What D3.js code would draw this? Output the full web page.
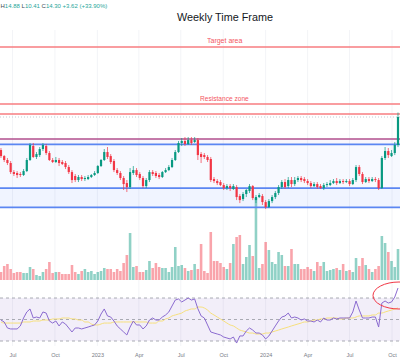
<!DOCTYPE html>
<html><head><meta charset="utf-8">
<script src="https://cdn.jsdelivr.net/npm/d3@7"></script>
<style>body{margin:0;background:#fff}svg{display:block;font-family:"Liberation Sans",Arial,sans-serif}</style>
</head><body><svg id="c" width="400" height="359"></svg>
<script>
const opens = [10.03,9.25,8.74,8.35,7.18,7.06,6.93,6.80,7.31,8.74,
10.55,9.13,9.38,10.16,10.55,9.64,8.74,8.48,8.74,8.48,
8.35,7.83,7.18,6.67,6.15,6.54,6.28,6.28,6.54,6.80,
7.06,7.96,8.74,9.77,9.25,8.61,7.44,7.06,6.41,5.76,
5.24,7.06,7.44,6.93,6.41,5.37,6.15,7.18,7.06,6.80,
6.54,7.18,7.44,7.83,8.74,9.77,10.94,11.20,10.81,11.32,
11.07,11.32,9.51,9.38,9.13,8.87,6.28,6.02,5.89,5.50,
5.11,5.37,4.99,5.24,4.08,3.69,4.34,4.73,5.37,3.56,
3.95,4.08,3.30,2.66,3.43,3.95,4.47,5.24,5.89,5.37,
6.15,5.63,6.15,6.41,6.28,6.02,5.76,5.37,5.63,5.37,
5.11,5.50,5.50,5.76,6.02,5.76,6.02,5.89,6.02,5.63,
6.15,7.83,6.93,5.89,6.28,6.02,6.28,6.15,5.11,9.00,
9.90,9.25,9.64,10.68];
const closes = [9.25,8.74,8.35,7.18,6.93,6.80,6.80,7.31,8.74,10.68,
9.13,9.51,10.16,10.68,9.64,8.74,8.48,8.74,8.35,8.22,
7.83,7.18,6.15,6.15,6.54,6.28,6.41,6.54,6.80,7.06,
7.96,8.74,9.77,9.13,8.48,7.44,7.06,6.41,5.63,5.24,
7.18,7.44,6.80,6.41,5.37,6.15,7.18,6.93,6.67,6.54,
7.18,7.44,7.83,8.74,9.77,10.94,11.20,10.81,11.32,10.94,
11.32,9.38,9.13,9.13,8.74,6.15,6.02,5.76,5.50,5.11,
5.37,5.11,5.37,3.95,3.56,4.34,4.86,5.37,3.82,3.95,
4.21,3.30,2.66,3.43,3.95,4.47,5.24,5.89,5.24,6.15,
5.63,6.15,6.41,6.15,6.02,5.76,5.37,5.63,5.24,5.11,
5.50,5.63,5.76,6.02,5.76,6.02,5.89,6.02,5.63,6.15,
7.83,6.93,5.89,6.28,6.02,6.28,6.15,5.11,9.00,9.90,
9.38,9.64,10.68,14.30];
const highs = [10.29,9.38,9.00,8.61,7.44,7.31,7.18,7.57,9.00,10.94,
10.94,9.77,10.42,10.94,10.81,9.90,9.00,9.13,9.00,8.74,
8.61,8.09,7.44,6.93,6.80,6.80,6.67,6.80,6.93,7.31,
8.09,8.87,10.16,10.42,9.51,8.87,7.70,7.31,6.67,6.15,
7.70,7.96,7.70,7.18,6.67,6.41,7.44,7.44,7.31,7.06,
7.31,7.70,8.09,9.00,10.03,11.20,11.58,11.71,11.71,11.71,
11.71,11.58,9.77,9.64,9.38,9.13,6.54,6.28,6.15,5.76,
5.63,5.63,5.63,5.50,4.34,4.60,4.99,5.63,5.50,4.21,
4.47,4.34,3.56,3.69,4.21,4.73,5.50,6.15,6.28,6.54,
6.54,6.54,6.67,6.67,6.54,6.28,6.02,5.89,5.89,5.63,
5.76,5.89,6.15,6.28,6.41,6.28,6.28,6.28,6.28,6.41,
8.09,8.09,7.18,6.54,6.54,6.54,6.54,6.41,9.25,10.42,
10.29,10.03,11.07,14.88];
const lows = [9.00,8.48,8.09,6.93,6.67,6.41,6.54,6.67,7.18,8.61,
9.00,8.87,9.13,9.90,9.38,8.61,8.35,8.35,7.96,8.09,
7.57,6.93,5.76,5.89,5.89,6.02,6.02,6.15,6.41,6.67,
6.93,7.83,8.61,8.87,8.22,7.18,6.80,6.15,4.86,4.60,
4.99,6.80,6.54,6.15,5.11,5.11,5.89,6.67,6.41,6.28,
6.41,7.06,7.31,7.70,8.61,9.64,10.55,10.55,10.68,10.68,
10.94,8.74,8.35,8.87,8.48,5.89,5.76,5.50,5.37,4.86,
4.86,4.73,4.86,3.56,3.17,3.43,3.95,4.47,3.56,3.17,
3.82,2.92,2.40,2.53,3.17,3.69,4.21,4.99,4.99,5.11,
5.24,5.37,5.89,5.89,5.76,5.50,5.11,5.24,4.99,4.99,
4.86,5.24,5.37,5.63,5.50,5.63,5.63,5.76,5.37,5.50,
5.89,6.67,5.63,5.76,5.76,5.89,5.89,4.86,4.99,8.74,
9.00,9.13,9.38,10.41];
const volumes = [8,14,16,11,7,8,8,7,7,13,
11,5,4,8,11,18,7,8,8,6,
6,6,15,8,6,9,11,8,9,6,
8,9,12,11,11,8,11,9,17,25,
47,13,14,8,8,10,19,12,17,13,
12,12,8,13,33,14,15,12,9,10,
16,11,36,9,7,48,19,19,17,13,
11,17,36,43,45,16,23,35,24,82,
12,16,38,30,18,16,28,25,14,14,
31,16,16,11,11,13,11,9,18,14,
18,9,10,11,12,10,16,9,10,8,
22,14,22,15,11,8,11,14,44,37,
28,19,13,31];
const rsi = [49.5,47.7,42.1,41.2,41.2,41.2,44.0,51.4,57.0,59.8,
51.4,52.3,51.4,57.0,56.0,48.6,46.7,48.6,44.0,47.7,
45.8,42.1,38.4,42.1,42.1,41.2,42.1,43.0,44.0,44.9,
48.6,55.1,59.8,53.3,52.3,48.6,44.0,41.2,38.4,35.6,
43.0,48.6,44.9,44.9,41.2,44.0,49.5,51.4,49.5,49.5,
52.3,54.2,57.0,62.6,68.1,69.1,66.3,68.1,70.0,68.1,
69.1,60.0,53.3,51.4,44.9,38.4,37.4,36.5,35.6,33.7,
32.8,31.9,33.7,28.1,34.7,34.7,39.3,42.1,40.2,37.4,
37.4,35.6,31.9,34.7,39.3,44.0,48.6,52.3,53.3,56.0,
51.4,52.3,51.4,49.5,50.5,48.6,48.6,47.7,49.5,47.7,
51.4,49.5,49.5,51.4,50.5,51.4,51.4,51.4,51.4,57.0,
67.2,58.8,51.4,51.4,51.4,52.3,52.3,43.0,65.3,67.2,
65.3,66.3,70.9,79.3];
const rsiMA = [47.7,46.7,46.7,46.7,46.7,46.7,46.7,47.7,47.7,47.7,
48.6,48.6,48.6,49.5,49.5,49.5,50.5,50.5,50.5,51.4,
51.4,51.4,50.5,50.5,49.5,49.5,47.7,47.7,45.8,44.9,
44.9,45.8,46.7,46.7,46.7,47.7,47.7,47.7,47.7,47.7,
47.7,47.7,47.7,47.7,47.7,47.7,46.7,46.7,46.7,48.6,
48.6,50.5,51.4,53.3,54.2,55.1,56.0,57.9,58.8,59.8,
59.8,61.6,61.6,60.7,58.8,56.0,54.2,52.3,50.5,48.6,
46.7,44.9,44.0,42.1,40.2,39.3,38.4,37.4,37.4,36.5,
36.5,36.5,37.4,37.4,38.4,39.3,40.2,41.2,42.1,43.0,
44.0,44.9,45.8,46.7,47.7,47.7,48.6,49.5,49.5,50.5,
50.5,51.4,51.4,51.4,51.4,50.5,50.5,51.4,51.4,51.4,
52.3,53.3,53.3,53.3,53.3,54.2,54.2,56.0,56.0,57.0,
57.9,58.8,59.8,60.7];
const tickDates = ["2022-07-01","2022-10-01","2023-01-01","2023-04-01","2023-07-01","2023-10-01","2024-01-01","2024-04-01","2024-07-01","2024-10-01"];
const tickLabels = ["Jul","Oct","2023","Apr","Jul","Oct","2024","Apr","Jul","Oct"];
const redLevels = [23.36, 15.98, 14.69];
const purpleLevels = [11.45];
const blueLevels = [10.76, 5.11, 2.62];
const rsiLevels = [70, 50, 30];
const lastClose = 14.30;
const levelLabels = [{text:"Target area", value:23.36},{text:"Resistance zone", value:15.98}];

const parse = d3.timeParse("%Y-%m-%d");
const weeks = d3.timeMonday.range(new Date(2022,5,6), new Date(2024,9,15));
const data = weeks.map((d,i)=>({date:d,o:opens[i],h:highs[i],l:lows[i],c:closes[i],v:volumes[i],r:rsi[i],m:rsiMA[i]}));

const W = 400, H = 359;
const svg = d3.select("#c");
const x = d3.scaleTime().domain([parse(tickDates[0]), parse(tickDates[9])]).range([12.5, 392]);
const y = d3.scaleLinear().domain([10.68, 14.30]).range([145, 117]);
const yv = d3.scaleLinear().domain([0, 100]).range([280, 180]);
const yr = d3.scaleLinear().domain([30, 70]).range([341, 298]);
const step = x(weeks[1]) - x(weeks[0]);
const bw = step * 0.68;

const green = "#089981", red = "#f23645";

// vertical grid
svg.append("g").selectAll("line").data(tickDates).join("line")
  .attr("x1", d=>x(parse(d))).attr("x2", d=>x(parse(d)))
  .attr("y1", 30).attr("y2", 346).attr("stroke", "#f3f4f7").attr("stroke-width", 1);

// zone fills
svg.append("rect").attr("x",0).attr("width",W).attr("y",y(purpleLevels[0])).attr("height",y(blueLevels[0])-y(purpleLevels[0])).attr("fill","rgba(126,87,194,0.05)");
svg.append("rect").attr("x",0).attr("width",W).attr("y",y(blueLevels[0])).attr("height",y(blueLevels[1])-y(blueLevels[0])).attr("fill","rgba(41,98,255,0.035)");
svg.append("rect").attr("x",0).attr("width",W).attr("y",y(blueLevels[1])).attr("height",y(blueLevels[2])-y(blueLevels[1])).attr("fill","rgba(41,98,255,0.07)");

// RSI band
svg.append("rect").attr("x",0).attr("width",W).attr("y",yr(70)).attr("height",yr(30)-yr(70)).attr("fill","rgba(126,87,194,0.1)");
svg.append("g").selectAll("line").data(rsiLevels).join("line")
  .attr("x1",0).attr("x2",W).attr("y1",d=>yr(d)).attr("y2",d=>yr(d))
  .attr("stroke","#9598a1").attr("stroke-width",0.8).attr("stroke-dasharray","3,3");

// volume
svg.append("g").selectAll("rect").data(data).join("rect")
  .attr("x", d=>x(d.date)-step*0.4).attr("width", step*0.8)
  .attr("y", d=>yv(d.v)).attr("height", d=>yv(0)-yv(d.v))
  .attr("fill", d=>d.c>=d.o ? "rgba(8,153,129,0.45)" : "rgba(242,54,69,0.45)");

// level lines
svg.append("g").selectAll("line").data(redLevels).join("line")
  .attr("x1",0).attr("x2",W).attr("y1",d=>y(d)).attr("y2",d=>y(d))
  .attr("stroke","#f77c80").attr("stroke-width",1.5);
svg.append("g").selectAll("line").data(purpleLevels).join("line")
  .attr("x1",0).attr("x2",W).attr("y1",d=>y(d)).attr("y2",d=>y(d))
  .attr("stroke","#b24f8e").attr("stroke-width",1.6);
svg.append("g").selectAll("line").data(blueLevels).join("line")
  .attr("x1",0).attr("x2",W).attr("y1",d=>y(d)).attr("y2",d=>y(d))
  .attr("stroke","#5b86f2").attr("stroke-width",1.8);
svg.append("line").attr("x1",0).attr("x2",W).attr("y1",y(lastClose)).attr("y2",y(lastClose))
  .attr("stroke","#b8bcc6").attr("stroke-width",0.8).attr("stroke-dasharray","1,2");

// candles
const cg = svg.append("g");
cg.selectAll("line").data(data).join("line")
  .attr("x1", d=>x(d.date)).attr("x2", d=>x(d.date))
  .attr("y1", d=>y(d.h)).attr("y2", d=>y(d.l))
  .attr("stroke", d=>d.c>=d.o?green:red).attr("stroke-width",0.7);
cg.selectAll("rect").data(data).join("rect")
  .attr("x", d=>x(d.date)-bw/2).attr("width", bw)
  .attr("y", d=>y(Math.max(d.o,d.c))).attr("height", d=>Math.max(0.8, Math.abs(y(d.o)-y(d.c))))
  .attr("fill", d=>d.c>=d.o?green:red);

// RSI lines
svg.append("path").datum(data).attr("fill","none").attr("stroke","#f7e07c").attr("stroke-width",1)
  .attr("d", d3.line().x(d=>x(d.date)).y(d=>yr(d.m)).curve(d3.curveMonotoneX));
svg.append("path").datum(data).attr("fill","none").attr("stroke","#8b6bd0").attr("stroke-width",1)
  .attr("d", d3.line().x(d=>x(d.date)).y(d=>yr(d.r)));

// red ellipse
svg.append("ellipse").attr("cx",399).attr("cy",295.5).attr("rx",26).attr("ry",13.5)
  .attr("fill","none").attr("stroke","#f23645").attr("stroke-width",1);

// level labels
svg.append("g").selectAll("text").data(levelLabels).join("text")
  .attr("x", d=>d.text==="Target area"?207:200).attr("y", d=>y(d.value)-3.5)
  .attr("font-size", d=>d.text==="Target area"?7:6.6).attr("fill","#f23645").attr("opacity",0.85)
  .text(d=>d.text);

// title
svg.append("text").attr("x",225).attr("y",21).attr("text-anchor","middle")
  .attr("font-size",10.8).attr("fill","#131722").text("Weekly Time Frame");

// header OHLC
const last = data[data.length-1], prev = data[data.length-2];
const chg = last.c - prev.c;
const hdr = svg.append("text").attr("x",0.5).attr("y",8).attr("font-size",6).attr("fill","#26a69a");
hdr.append("tspan").attr("fill","#434651").text("H");
hdr.append("tspan").text(d3.format(".2f")(last.h)+" ");
hdr.append("tspan").attr("fill","#434651").text("L");
hdr.append("tspan").text(d3.format(".2f")(last.l)+" ");
hdr.append("tspan").attr("fill","#434651").text("C");
hdr.append("tspan").text(d3.format(".2f")(last.c)+" "+d3.format("+.2f")(chg)+" ("+d3.format("+.2f")(chg/prev.c*100)+"%)");

// x axis
const ax = svg.append("g").attr("transform","translate(0,351)")
  .call(d3.axisBottom(x).tickValues(tickDates.map(parse)).tickFormat((d,i)=>tickLabels[i]).tickSize(0).tickPadding(2));
ax.select(".domain").remove();
ax.selectAll("text").attr("font-size",5.5).attr("fill","#787b86").attr("font-family","Liberation Sans, Arial, sans-serif");
</script></body></html>
